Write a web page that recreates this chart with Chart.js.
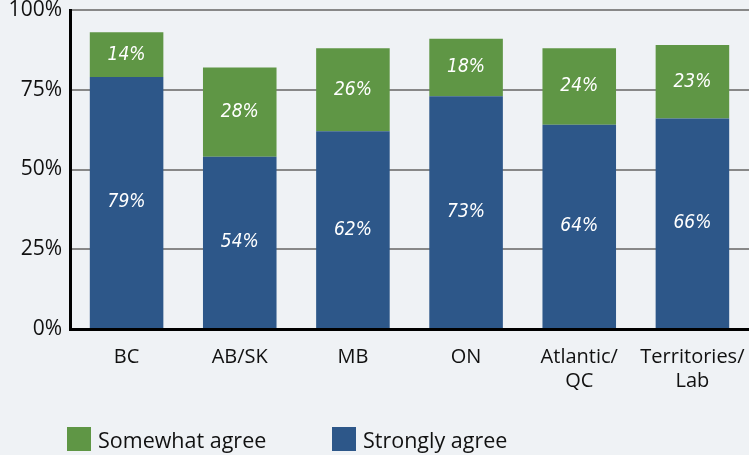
<!DOCTYPE html>
<html>
<head>
<meta charset="utf-8">
<script src="https://cdn.jsdelivr.net/npm/chart.js@4/dist/chart.umd.min.js"></script>
<style>
  html, body { margin: 0; padding: 0; background: #eff2f5; }
  #wrap { position: relative; width: 749px; height: 455px; background: #eff2f5; overflow: hidden; }
  #c { position: absolute; left: 0; top: 0; }
  .legend { position: absolute; top: 427px; height: 24px; display: flex; align-items: center; font-family: "Open Sans", "Noto Sans", sans-serif; font-size: 21.5px; color: #111; }
  .legend span.box { display: inline-block; width: 24px; height: 24px; margin-right: 7px; }
</style>
</head>
<body>
<div id="wrap">
  <canvas id="c" width="749" height="455"></canvas>
  <div class="legend" style="left:67px;"><span class="box" style="background:#5f9645"></span><span>Somewhat agree</span></div>
  <div class="legend" style="left:332px;"><span class="box" style="background:#2d5789"></span><span>Strongly agree</span></div>
</div>
<script>
const categories = [["BC"], ["AB/SK"], ["MB"], ["ON"], ["Atlantic/", "QC"], ["Territories/", "Lab"]];
const stronglyAgree = [79, 54, 62, 73, 64, 66];
const somewhatAgree = [14, 28, 26, 18, 24, 23];
const yTicks = [0, 25, 50, 75, 100];

const labelPlugin = {
  id: 'barLabels',
  afterDatasetsDraw(chart) {
    const ctx = chart.ctx;
    ctx.save();
    ctx.fillStyle = '#ffffff';
    ctx.font = 'italic 19px "Liberation Sans Narrow", "DejaVu Sans Condensed", sans-serif';
    ctx.textAlign = 'center';
    ctx.textBaseline = 'middle';
    chart.data.datasets.forEach((ds, di) => {
      const meta = chart.getDatasetMeta(di);
      meta.data.forEach((bar, i) => {
        const y = (bar.y + bar.base) / 2;
        ctx.fillText(ds.data[i] + '%', bar.x, y);
      });
    });
    ctx.restore();
  }
};

new Chart(document.getElementById('c'), {
  type: 'bar',
  data: {
    labels: categories,
    datasets: [
      { label: 'Strongly agree', data: stronglyAgree, backgroundColor: '#2d5789', stack: 's' },
      { label: 'Somewhat agree', data: somewhatAgree, backgroundColor: '#5f9645', stack: 's' }
    ]
  },
  options: {
    responsive: false,
    animation: false,
    layout: { padding: { top: 10, right: 0, bottom: 56, left: 0 } },
    plugins: { legend: { display: false }, tooltip: { enabled: false } },
    datasets: { bar: { categoryPercentage: 0.65, barPercentage: 1 } },
    scales: {
      x: {
        stacked: true,
        grid: { display: false },
        border: { color: '#000', width: 3 },
        ticks: { color: '#111', font: { family: '"Open Sans", "Noto Sans", sans-serif', size: 20, lineHeight: 1.2 }, padding: 8, maxRotation: 0, autoSkip: false },
        afterFit(s) { s.height = 70; s.paddingLeft = 0; s.paddingRight = 0; }
      },
      y: {
        stacked: true,
        min: 0, max: 100,
        afterBuildTicks(s) { s.ticks = yTicks.map(v => ({ value: v })); },
        grid: { color: '#888888', lineWidth: 2, drawTicks: false },
        border: { color: '#000', width: 3 },
        ticks: { color: '#111', font: { family: '"Open Sans", "Noto Sans", sans-serif', size: 21 }, padding: 8, callback: v => v + '%' },
        afterFit(s) { s.width = 70; s.paddingTop = 0; s.paddingBottom = 0; }
      }
    }
  },
  plugins: [labelPlugin]
});
</script>
</body>
</html>
